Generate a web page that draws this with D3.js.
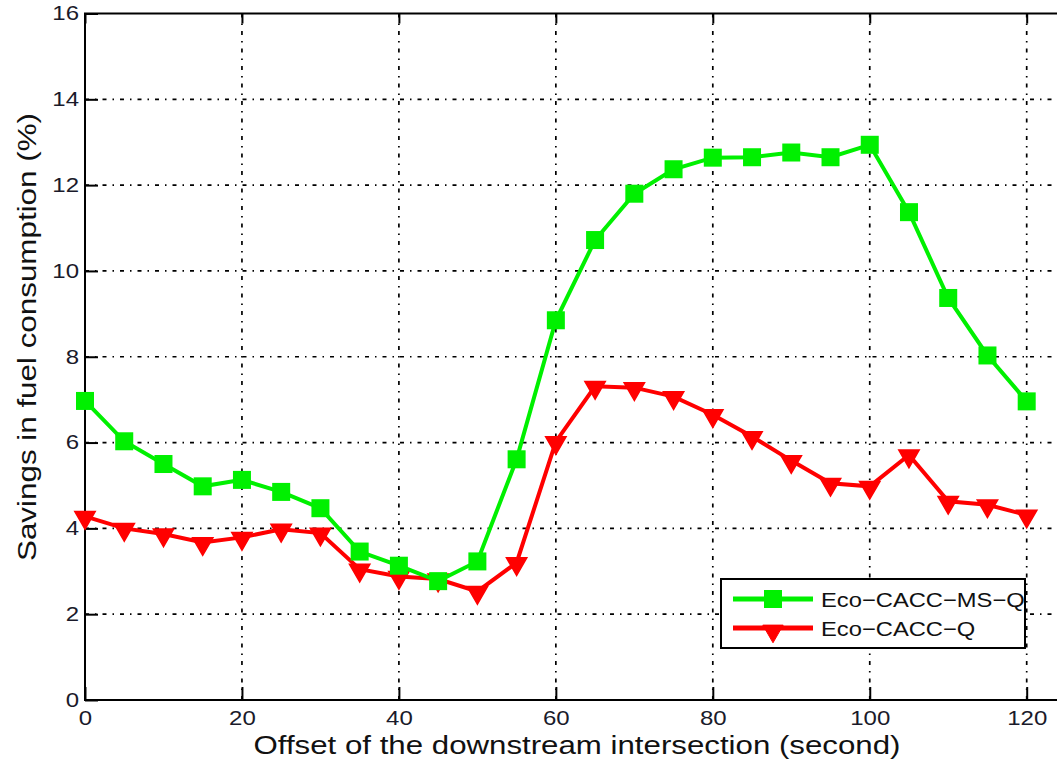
<!DOCTYPE html>
<html>
<head>
<meta charset="utf-8">
<script src="https://cdn.jsdelivr.net/npm/d3@7"></script>
<style>
  body { margin: 0; background: #fff; }
  text { font-family: "Liberation Sans", Arial, sans-serif; }
</style>
</head>
<body>
<div class="chart"></div>
<script>
//data
var offsets = [0, 5, 10, 15, 20, 25, 30, 35, 40, 45, 50, 55, 60, 65, 70, 75, 80, 85, 90, 95, 100, 105, 110, 115, 120];
var msq = [6.97, 6.03, 5.5, 4.98, 5.13, 4.85, 4.47, 3.46, 3.13, 2.77, 3.23, 5.61, 8.85, 10.72, 11.8, 12.37, 12.64, 12.65, 12.76, 12.65, 12.94, 11.37, 9.37, 8.03, 6.96];
var q = [4.28, 4.0, 3.87, 3.67, 3.79, 3.98, 3.89, 3.05, 2.88, 2.82, 2.53, 3.2, 6.02, 7.31, 7.28, 7.07, 6.65, 6.14, 5.58, 5.05, 4.98, 5.71, 4.63, 4.55, 4.31];
var xTicks = [0, 20, 40, 60, 80, 100, 120];
var yTicks = [0, 2, 4, 6, 8, 10, 12, 14, 16];
var seriesNames = ["Eco\u2212CACC\u2212MS\u2212Q", "Eco\u2212CACC\u2212Q"];
var seriesColors = ["#00f000", "#ff0000"];

//svg dims
var width = 1057;
var height = 764;
var padL = 85, padT = 13.5, padB = 700, padR = 1026.7;

var svg = d3.select(".chart")
            .append("svg")
            .attr("width", width)
            .attr("height", height);

//the source picture is a bit wider than tall, so text gets stretched along x
function stretch(sel, k) {
  sel.each(function() {
    var w = this.getComputedTextLength();
    d3.select(this).attr("textLength", w * k).attr("lengthAdjust", "spacingAndGlyphs");
  });
}

var xScale = d3.scaleLinear().domain([0, 120]).range([padL, padR]);
var yScale = d3.scaleLinear().domain([0, 16]).range([padB, padT]);

//grid, dotted like matlab
var grid = svg.append("g").attr("stroke", "#000").attr("stroke-width", 1.7)
              .attr("stroke-dasharray", "4,6,1.5,6");
grid.selectAll(".gx")
    .data(xTicks.slice(1))
    .enter()
    .append("line")
    .attr("x1", d => xScale(d)).attr("x2", d => xScale(d))
    .attr("y1", padT).attr("y2", padB);
grid.selectAll(".gy")
    .data(yTicks.slice(1, -1))
    .enter()
    .append("line")
    .attr("x1", padL).attr("x2", width)
    .attr("y1", d => yScale(d)).attr("y2", d => yScale(d));

//axes with inward ticks
var xAxis = d3.axisBottom(xScale).tickValues(xTicks).tickSize(-13).tickPadding(10);
var yAxis = d3.axisLeft(yScale).tickValues(yTicks).tickSize(-13).tickPadding(6);
var xTop = d3.axisTop(xScale).tickValues(xTicks).tickSize(-10).tickFormat("");

var gx = svg.append("g").attr("transform", `translate(0, ${padB})`).call(xAxis);
var gy = svg.append("g").attr("transform", `translate(${padL}, 0)`).call(yAxis);
var gt = svg.append("g").attr("transform", `translate(0, ${padT})`).call(xTop);
[gx, gy, gt].forEach(g => {
  g.select(".domain").remove();
  g.selectAll(".tick line").attr("stroke", "#000").attr("stroke-width", 2);
  g.selectAll(".tick text").attr("fill", "#1a1a2a").style("font-size", "20px");
});
gx.selectAll(".tick text").attr("dy", "0.75em");
stretch(gx.selectAll(".tick text"), 1.2);
stretch(gy.selectAll(".tick text"), 1.2);

//frame (right side is outside the picture)
svg.append("path")
   .attr("d", `M${width + 5},${padT}H${padL}V${padB}H${width + 5}`)
   .attr("fill", "none").attr("stroke", "#000").attr("stroke-width", 2);

//series
var line = d3.line().x((d, i) => xScale(offsets[i])).y(d => yScale(d));
var tri = d3.symbol().type(d3.symbolTriangle).size(180);

function drawSeries(values, color, kind) {
  svg.append("path")
     .datum(values)
     .attr("d", line)
     .attr("fill", "none")
     .attr("stroke", color)
     .attr("stroke-width", 4);
  var marks = svg.append("g").selectAll("path")
     .data(values)
     .enter();
  if (kind === "square") {
    marks.append("rect")
         .attr("x", (d, i) => xScale(offsets[i]) - 9)
         .attr("y", d => yScale(d) - 9)
         .attr("width", 18).attr("height", 18)
         .attr("fill", color);
  } else {
    marks.append("path")
         .attr("d", tri)
         .attr("transform", (d, i) => `translate(${xScale(offsets[i])}, ${yScale(d) + 1}) rotate(180)`)
         .attr("fill", color)
         .attr("stroke", color)
         .attr("stroke-width", 1.5);
  }
}
drawSeries(q, seriesColors[1], "tri");
drawSeries(msq, seriesColors[0], "square");

//axis titles
var xTitle = svg.append("text")
   .attr("x", 577)
   .attr("y", 754)
   .attr("text-anchor", "middle")
   .style("font-size", "25px")
   .attr("fill", "#111")
   .text("Offset of the downstream intersection (second)");
xTitle.attr("textLength", 647).attr("lengthAdjust", "spacingAndGlyphs");
svg.append("text")
   .attr("transform", `translate(36, 337) rotate(-90)`)
   .attr("text-anchor", "middle")
   .style("font-size", "25px")
   .attr("fill", "#111")
   .attr("textLength", 448)
   .attr("lengthAdjust", "spacingAndGlyphs")
   .text("Savings in fuel consumption (%)");

//legend
var legend = svg.append("g").attr("transform", "translate(721, 579)");
legend.append("rect")
      .attr("width", 304).attr("height", 69)
      .attr("fill", "#fff").attr("stroke", "#000").attr("stroke-width", 2);
var rows = legend.selectAll(".row")
      .data(seriesNames)
      .enter()
      .append("g")
      .attr("transform", (d, i) => `translate(0, ${20 + i * 29})`);
rows.append("line")
    .attr("x1", 12).attr("x2", 92)
    .attr("stroke", (d, i) => seriesColors[i])
    .attr("stroke-width", 5);
rows.each(function(d, i) {
  var r = d3.select(this);
  if (i === 0) {
    r.append("rect").attr("x", 43).attr("y", -9).attr("width", 18).attr("height", 18)
     .attr("fill", seriesColors[0]);
  } else {
    r.append("path").attr("d", tri)
     .attr("transform", "translate(52, 3) rotate(180)")
     .attr("fill", seriesColors[1]).attr("stroke", seriesColors[1]);
  }
});
var legText = rows.append("text")
    .attr("x", 100)
    .attr("dy", "0.36em")
    .style("font-size", "21px")
    .attr("fill", "#111")
    .text(d => d);
stretch(legText, 1.13);
</script>
</body>
</html>
